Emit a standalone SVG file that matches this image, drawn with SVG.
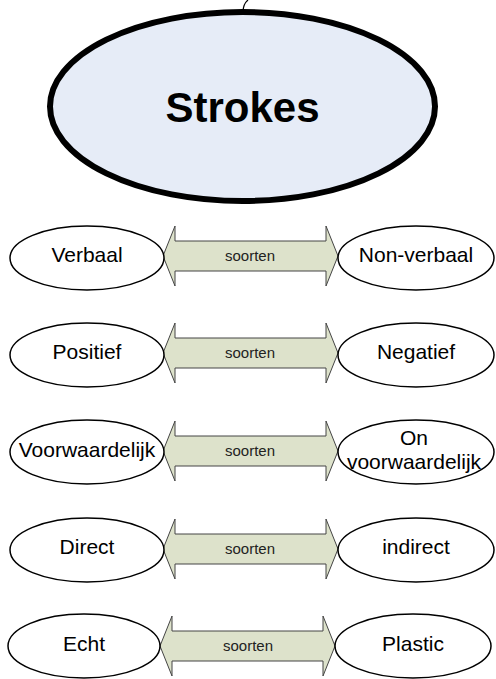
<svg xmlns="http://www.w3.org/2000/svg" width="496" height="679" viewBox="0 0 496 679">
<defs>
<style>
.lbl{font-family:"Liberation Sans",Arial,sans-serif;font-size:21px;fill:#000;text-anchor:middle}
.so{font-family:"Liberation Sans",Arial,sans-serif;font-size:15px;fill:#222;text-anchor:middle}
.el{fill:#fff;stroke:#000;stroke-width:1.5}
.arr{fill:#dde2cb;stroke:#444;stroke-width:1}
</style>
<path id="dbl" class="arr" d="M0,0 L12,-30 L12,-15 L163,-15 L163,-30 L175,0 L163,30 L163,15 L12,15 L12,30 Z"/>
</defs>
<rect width="496" height="679" fill="#fff"/>
<g id="connectors">
<path d="M243,12 Q243,4 248,0" fill="none" stroke="#000" stroke-width="1.2"/>
<use href="#dbl" x="163" y="256"/>
<use href="#dbl" x="163" y="353"/>
<use href="#dbl" x="163" y="451"/>
<use href="#dbl" x="163" y="549"/>
<use href="#dbl" x="160" y="646"/>
<text class="so" x="250" y="261">soorten</text>
<text class="so" x="250" y="358">soorten</text>
<text class="so" x="250" y="456">soorten</text>
<text class="so" x="250" y="554">soorten</text>
<text class="so" x="248" y="651">soorten</text>
</g>
<g id="strokes">
<ellipse cx="242.5" cy="106.5" rx="192.5" ry="94.5" fill="#e6ecf7" stroke="#000" stroke-width="6"/>
<text x="242.5" y="122" font-family="Liberation Sans,Arial,sans-serif" font-size="42" font-weight="bold" text-anchor="middle">Strokes</text>
</g>
<g id="verbaal"><ellipse class="el" cx="87" cy="258" rx="77" ry="32"/><text class="lbl" x="87" y="262">Verbaal</text></g>
<g id="nonverbaal"><ellipse class="el" cx="416" cy="258" rx="78" ry="32"/><text class="lbl" x="416" y="262">Non-verbaal</text></g>
<g id="positief"><ellipse class="el" cx="87" cy="355" rx="77" ry="32"/><text class="lbl" x="87" y="359">Positief</text></g>
<g id="negatief"><ellipse class="el" cx="416" cy="355" rx="78" ry="32"/><text class="lbl" x="416" y="359">Negatief</text></g>
<g id="voorwaardelijk"><ellipse class="el" cx="87" cy="452" rx="77" ry="32"/><text class="lbl" x="87" y="457">Voorwaardelijk</text></g>
<g id="onvoorwaardelijk"><ellipse class="el" cx="416" cy="452" rx="78" ry="32"/><text class="lbl" x="414" y="445">On</text><text class="lbl" x="414" y="469">voorwaardelijk</text></g>
<g id="direct"><ellipse class="el" cx="87" cy="550" rx="77" ry="32"/><text class="lbl" x="87" y="554">Direct</text></g>
<g id="indirect"><ellipse class="el" cx="416" cy="550" rx="78" ry="32"/><text class="lbl" x="416" y="554">indirect</text></g>
<g id="echt"><ellipse class="el" cx="84" cy="646" rx="76" ry="32"/><text class="lbl" x="84" y="651">Echt</text></g>
<g id="plastic"><ellipse class="el" cx="413" cy="646" rx="78" ry="32"/><text class="lbl" x="413" y="651">Plastic</text></g>
</svg>
